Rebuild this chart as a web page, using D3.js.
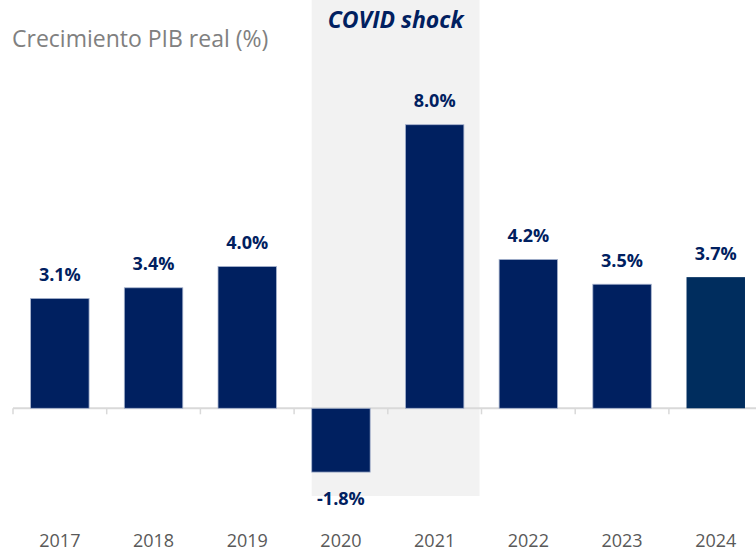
<!DOCTYPE html>
<html>
<head>
<meta charset="utf-8">
<script src="https://cdn.jsdelivr.net/npm/d3@7"></script>
<style>
  body { margin: 0; background: #fff; }
  svg { display: block; font-family: "Open Sans", sans-serif; }
</style>
</head>
<body>
<div id="chart"></div>
<script>
const years = ["2017", "2018", "2019", "2020", "2021", "2022", "2023", "2024"];
const growth = [3.1, 3.4, 4.0, -1.8, 8.0, 4.2, 3.5, 3.7];
const valueLabels = ["3.1%", "3.4%", "4.0%", "-1.8%", "8.0%", "4.2%", "3.5%", "3.7%"];
const shockYears = ["2020", "2021"];

const width = 756, height = 552;
const data = years.map((y, i) => ({ year: y, value: growth[i], label: valueLabels[i] }));

const svg = d3.select("#chart").append("svg")
    .attr("width", width)
    .attr("height", height);

// scales
const x = d3.scaleBand()
    .domain(years)
    .range([13, 762.6])
    .paddingInner(0.376)
    .paddingOuter(0.188);

const y = d3.scaleLinear()
    .domain([-2, 9])
    .range([408.3 + 2 * 35.45, 408.3 - 9 * 35.45]);

const gap = x.step() - x.bandwidth();

// COVID shading
const shadeLeft = x(shockYears[0]);
const shadeRight = x(shockYears[1]) + x.bandwidth() + gap / 2 - 2;

svg.append("rect")
    .attr("x", shadeLeft)
    .attr("y", 0)
    .attr("width", shadeRight - shadeLeft)
    .attr("height", 496)
    .attr("fill", "#f2f2f2");

svg.append("text")
    .attr("x", (shadeLeft + shadeRight) / 2)
    .attr("y", 28)
    .attr("text-anchor", "middle")
    .style("font-size", "23px")
    .style("font-weight", "bold")
    .style("font-style", "italic")
    .style("fill", "#002060")
    .text("COVID shock");

// title
svg.append("text")
    .attr("x", 12)
    .attr("y", 47)
    .style("font-size", "23px")
    .style("fill", "#808080")
    .text("Crecimiento PIB real (%)");

// axis line and tick marks at band boundaries
svg.append("line")
    .attr("x1", 13)
    .attr("x2", width)
    .attr("y1", y(0))
    .attr("y2", y(0))
    .attr("stroke", "#d9d9d9")
    .attr("stroke-width", 2);

svg.selectAll(".tick-mark")
    .data(years)
    .join("line")
    .attr("class", "tick-mark")
    .attr("x1", d => x(d) - gap / 2)
    .attr("x2", d => x(d) - gap / 2)
    .attr("y1", y(0))
    .attr("y2", y(0) + 6)
    .attr("stroke", "#d9d9d9")
    .attr("stroke-width", 1.5);

// bars
svg.selectAll(".bar")
    .data(data)
    .join("rect")
    .attr("class", "bar")
    .attr("x", d => x(d.year))
    .attr("width", x.bandwidth())
    .attr("y", d => y(Math.max(0, d.value)))
    .attr("height", d => Math.abs(y(d.value) - y(0)))
    .attr("fill", d => d.year === "2024" ? "#002d5e" : "#002060")
    .attr("stroke", d => d.year === "2024" ? "none" : "#a9b5cf")
    .attr("stroke-width", 0.8);

// value labels
svg.selectAll(".value-label")
    .data(data)
    .join("text")
    .attr("class", "value-label")
    .attr("x", d => x(d.year) + x.bandwidth() / 2)
    .attr("y", d => d.value >= 0 ? y(d.value) - 17.5 : y(d.value) + 33)
    .attr("text-anchor", "middle")
    .style("font-size", "18px")
    .style("font-weight", "bold")
    .style("fill", "#002060")
    .text(d => d.label);

// year labels
const xAxis = svg.append("g")
    .attr("transform", `translate(0,${y(0)})`)
    .call(d3.axisBottom(x).tickSize(0).tickPadding(0));

xAxis.select(".domain").remove();
xAxis.selectAll(".tick text")
    .attr("dy", null)
    .attr("y", 547 - y(0))
    .style("font-family", "'Open Sans', sans-serif")
    .style("font-size", "18px")
    .style("fill", "#595959");
</script>
</body>
</html>
